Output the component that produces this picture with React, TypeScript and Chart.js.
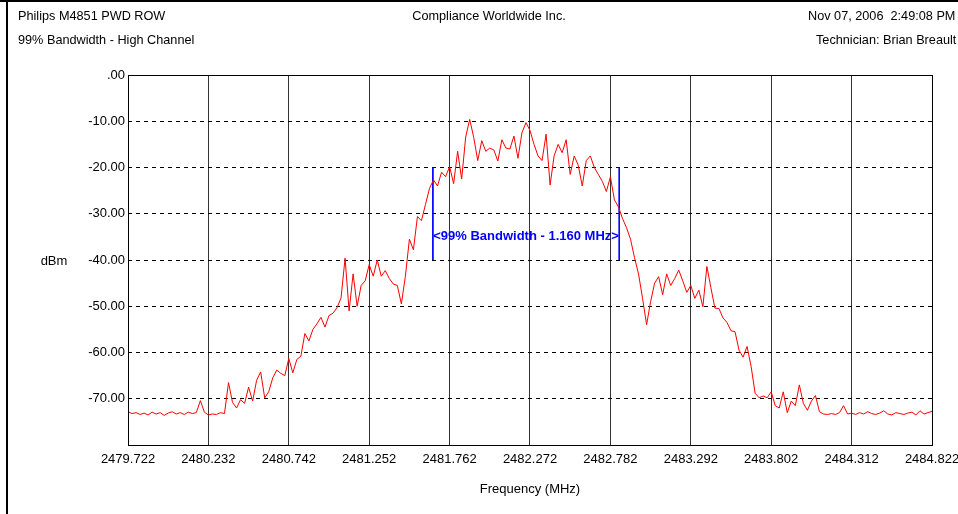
import React, { useEffect, useRef } from 'react';
import { Chart, registerables } from 'chart.js';

Chart.register(...registerables);

// ---- data ----
const START_MHZ = 2479.722;
const STEP_MHZ = 0.0255;

const LEVELS_DBM = [
  -72.8, -73.2, -73.0, -73.4, -73.1, -73.5, -72.9, -73.3, -73.0, -73.6,
  -73.1, -72.8, -73.3, -73.0, -73.4, -72.9, -73.2, -73.0, -70.4, -72.9,
  -73.5, -73.3, -73.4, -73.0, -73.2, -66.5, -70.8, -72.0, -70.2, -71.0,
  -67.5, -70.5, -66.0, -64.2, -69.8, -68.5, -65.5, -63.8, -64.5, -65.0,
  -61.3, -64.4, -61.5, -60.8, -55.9, -57.5, -55.0, -53.8, -52.4, -54.5,
  -52.0, -51.5, -50.3, -48.2, -39.6, -51.0, -43.0, -50.0, -45.5, -44.5,
  -41.0, -43.5, -40.0, -43.5, -42.3, -44.0, -45.2, -45.5, -49.5, -43.5,
  -35.5, -37.8, -30.6, -31.5, -28.0, -24.5, -22.7, -24.0, -21.0, -22.0,
  -19.8, -23.5, -16.5, -22.5, -13.4, -9.6, -13.5, -18.5, -14.2, -16.5,
  -15.8, -16.2, -18.6, -14.0, -15.8, -16.0, -13.2, -18.0, -12.5, -10.3,
  -12.0, -15.0, -17.5, -18.5, -12.8, -23.8, -17.5, -15.0, -16.8, -14.0,
  -21.5, -17.5, -19.5, -24.0, -18.5, -17.5, -20.0, -21.5, -23.0, -25.2,
  -22.0, -27.0, -28.5, -31.0, -33.0, -35.5, -39.5, -43.0, -48.3, -54.0,
  -49.0, -45.0, -43.6, -47.5, -43.0, -45.5, -44.0, -42.2, -44.5, -47.0,
  -45.5, -48.3, -46.5, -50.1, -41.4, -46.0, -50.4, -50.5, -52.5, -53.5,
  -55.3, -55.5, -59.5, -61.0, -58.7, -63.0, -68.8, -69.8, -69.4, -69.8,
  -68.5, -71.5, -72.0, -68.5, -73.0, -70.5, -71.5, -67.0, -71.0, -72.5,
  -70.5, -69.3, -72.8, -73.3, -73.4, -73.2, -73.4, -73.0, -71.5, -73.3,
  -73.1, -73.4, -73.0, -73.3, -72.8, -73.2, -73.4, -73.1, -72.6, -73.3,
  -73.5, -73.0, -73.2, -73.4, -73.1, -72.9, -73.5, -72.6, -73.3, -73.0,
  -72.7,
];

const X_TICKS = [
  2479.722, 2480.232, 2480.742, 2481.252, 2481.762, 2482.272,
  2482.782, 2483.292, 2483.802, 2484.312, 2484.822,
];
const Y_TICKS = [0, -10, -20, -30, -40, -50, -60, -70, -80];

const MARKER_FREQS = [2481.656, 2482.838];
const MARKER_LEVELS = [-20, -40];
const BW_LABEL = '<99% Bandwidth - 1.160 MHz>';
const BW_LABEL_LEVEL = -34.8;

const HEADER_LEFT = ['Philips M4851 PWD ROW', '99% Bandwidth - High Channel'];
const HEADER_CENTER = 'Compliance Worldwide Inc.';
const HEADER_RIGHT = ['Nov 07, 2006  2:49:08 PM', 'Technician: Brian Breault'];
const X_TITLE = 'Frequency (MHz)';
const Y_TITLE = 'dBm';

const FAMILY = "'Liberation Sans', Arial, sans-serif";

const decorPlugin = {
  id: 'decor',
  beforeDraw(chart: any) {
    const { ctx, width, height } = chart;
    ctx.save();
    ctx.fillStyle = '#ffffff';
    ctx.fillRect(0, 0, width, height);
    ctx.restore();
  },
  afterDraw(chart: any) {
    const { ctx, chartArea: a, scales } = chart;
    ctx.save();
    // page frame
    ctx.fillStyle = '#000';
    ctx.fillRect(0, 0, 958, 2);
    ctx.fillRect(6, 0, 2, 514);
    // plot frame
    ctx.strokeStyle = '#000';
    ctx.lineWidth = 1;
    ctx.strokeRect(a.left + 0.5, a.top + 0.5, a.right - a.left, a.bottom - a.top);

    ctx.fillStyle = '#000';
    ctx.font = `12.7px ${FAMILY}`;
    ctx.textBaseline = 'alphabetic';
    ctx.textAlign = 'left';
    ctx.fillText(HEADER_LEFT[0], 18, 20);
    ctx.fillText(HEADER_LEFT[1], 18, 44);
    ctx.fillText(HEADER_RIGHT[0], 808, 20);
    ctx.fillText(HEADER_RIGHT[1], 816, 44);
    ctx.textAlign = 'center';
    ctx.fillText(HEADER_CENTER, 489, 20);

    ctx.font = `13px ${FAMILY}`;
    ctx.textBaseline = 'middle';
    ctx.fillText(Y_TITLE, 54, 261);

    const xs = scales.x;
    const ys = scales.y;
    const cx = (xs.getPixelForValue(MARKER_FREQS[0]) + xs.getPixelForValue(MARKER_FREQS[1])) / 2;
    const cy = ys.getPixelForValue(BW_LABEL_LEVEL);
    ctx.fillStyle = '#0000ff';
    ctx.font = `bold 13px ${FAMILY}`;
    ctx.fillText(BW_LABEL, cx, cy);
    ctx.restore();
  },
};

export default function App() {
  const ref = useRef<HTMLCanvasElement>(null);

  useEffect(() => {
    const spectrum = LEVELS_DBM.map((v, i) => ({ x: START_MHZ + i * STEP_MHZ, y: v }));
    const markerSets = MARKER_FREQS.map((f) => ({
      data: MARKER_LEVELS.map((l) => ({ x: f, y: l })),
      borderColor: '#0000ff',
      borderWidth: 1,
      pointRadius: 0,
      fill: false,
    }));
    const tickFont = { family: FAMILY, size: 13 };
    const chart = new Chart(ref.current as HTMLCanvasElement, {
      type: 'line',
      data: {
        datasets: [
          {
            data: spectrum,
            borderColor: '#ff0000',
            borderWidth: 1,
            pointRadius: 0,
            fill: false,
            tension: 0,
          },
          ...markerSets,
        ],
      },
      options: {
        responsive: false,
        animation: false,
        devicePixelRatio: 1,
        layout: { padding: { top: 75, right: 26, bottom: 0, left: 0 } },
        plugins: { legend: { display: false }, tooltip: { enabled: false }, title: { display: false } },
        scales: {
          x: {
            type: 'linear',
            min: X_TICKS[0],
            max: X_TICKS[X_TICKS.length - 1],
            afterBuildTicks: (s: any) => {
              s.ticks = X_TICKS.map((v) => ({ value: v }));
            },
            afterFit: (s: any) => {
              s.height = 69;
              s.paddingLeft = 0;
              s.paddingRight = 0;
            },
            ticks: {
              autoSkip: false,
              maxRotation: 0,
              minRotation: 0,
              padding: 7,
              color: '#000',
              font: tickFont,
              callback: (v: any) => Number(v).toFixed(3),
            },
            grid: { color: '#333', lineWidth: 1, drawTicks: false },
            border: { display: false },
            title: {
              display: true,
              text: X_TITLE,
              color: '#000',
              font: tickFont,
              padding: { top: 0, bottom: 17 },
            },
          },
          y: {
            type: 'linear',
            min: Y_TICKS[Y_TICKS.length - 1],
            max: Y_TICKS[0],
            afterBuildTicks: (s: any) => {
              s.ticks = Y_TICKS.map((v) => ({ value: v }));
            },
            afterFit: (s: any) => {
              s.width = 128;
              s.paddingTop = 0;
              s.paddingBottom = 0;
            },
            ticks: {
              padding: 3,
              color: '#000',
              font: tickFont,
              callback: (v: any) => (v === Y_TICKS[Y_TICKS.length - 1] ? '' : v === 0 ? '.00' : Number(v).toFixed(2)),
            },
            grid: {
              drawTicks: false,
              lineWidth: 1,
              color: (c: any) =>
                c.tick && (c.tick.value === 0 || c.tick.value === -80) ? 'rgba(0,0,0,0)' : '#000',
            },
            border: { display: false, dash: [4, 4] },
          },
        },
      },
      plugins: [decorPlugin],
    } as any);
    return () => chart.destroy();
  }, []);

  return (
    <div style={{ position: 'absolute', left: 0, top: 0, width: 958, height: 514, background: '#fff' }}>
      <canvas ref={ref} width={958} height={514} style={{ display: 'block', width: 958, height: 514 }} />
    </div>
  );
}
